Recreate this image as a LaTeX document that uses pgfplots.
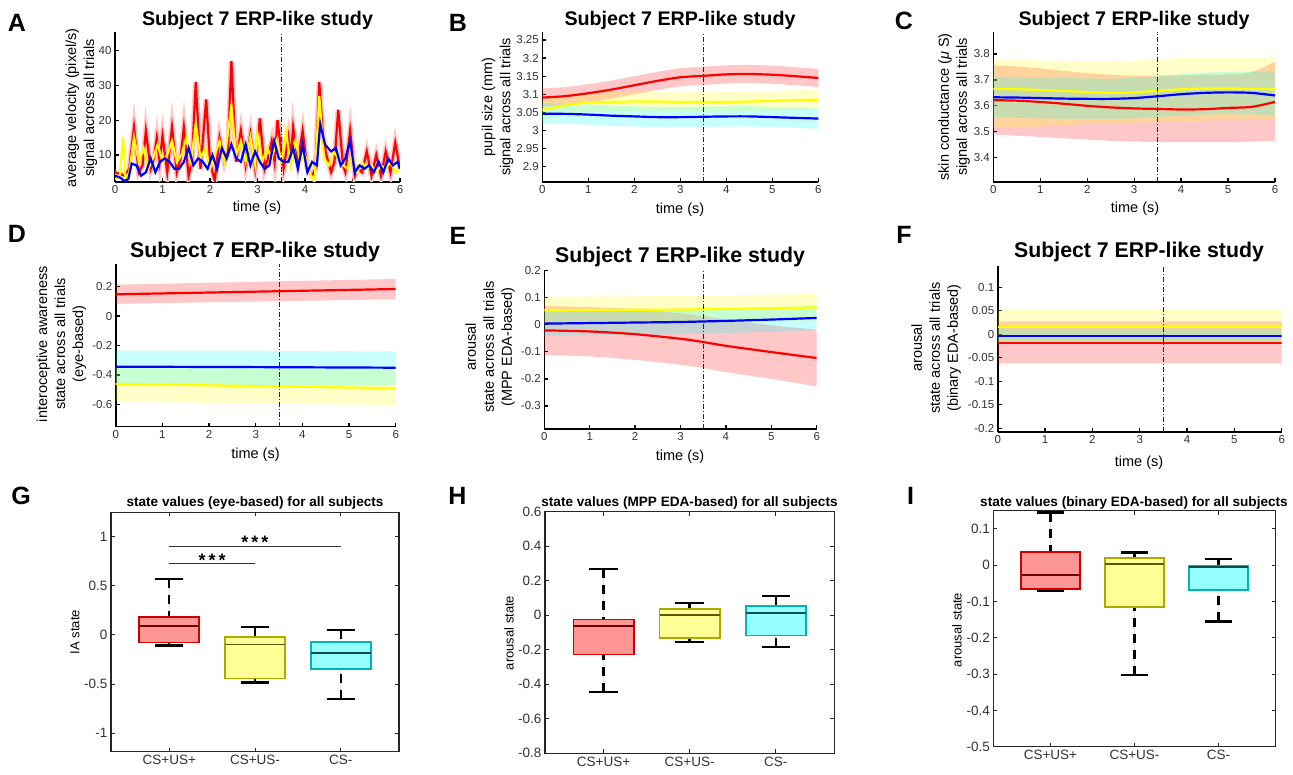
\documentclass[border=0pt]{standalone}
\usepackage{fontspec}
\setmainfont{Liberation Sans}
\usepackage{pgfplots}
\usepackage{pgfplotstable}
\pgfplotsset{compat=1.18}
\usepgfplotslibrary{fillbetween,statistics}

\definecolor{rE}{RGB}{204,0,0}
\definecolor{rF}{RGB}{255,150,150}
\definecolor{rM}{RGB}{110,0,0}
\definecolor{yE}{RGB}{170,170,0}
\definecolor{yF}{RGB}{255,255,150}
\definecolor{yM}{RGB}{90,90,0}
\definecolor{cE}{RGB}{0,180,180}
\definecolor{cF}{RGB}{150,255,255}
\definecolor{cM}{RGB}{0,80,80}
\definecolor{tk}{RGB}{50,50,50}
\definecolor{mred}{RGB}{255,0,0}
\definecolor{myel}{RGB}{255,255,0}
\definecolor{mblu}{RGB}{0,0,255}
\definecolor{mcya}{RGB}{0,255,255}

% panel B: pupil size
\pgfplotstableread{
t   r     rlo   rhi   y     ylo   yhi   b     blo   bhi
0   3.091 3.066 3.116 3.057 3.030 3.084 3.046 3.018 3.074
0.5 3.095 3.070 3.120 3.070 3.043 3.097 3.046 3.018 3.074
1   3.103 3.078 3.128 3.077 3.050 3.104 3.044 3.016 3.072
1.5 3.113 3.088 3.138 3.079 3.052 3.106 3.041 3.013 3.069
2   3.125 3.100 3.150 3.080 3.053 3.107 3.039 3.011 3.067
2.5 3.137 3.112 3.162 3.080 3.053 3.107 3.037 3.009 3.065
3   3.147 3.122 3.172 3.079 3.052 3.106 3.037 3.009 3.065
3.5 3.151 3.126 3.176 3.079 3.052 3.106 3.038 3.010 3.066
4   3.155 3.130 3.180 3.079 3.052 3.106 3.039 3.011 3.067
4.5 3.156 3.131 3.181 3.080 3.053 3.107 3.039 3.011 3.067
5   3.154 3.129 3.179 3.082 3.055 3.109 3.037 3.009 3.065
5.5 3.150 3.125 3.175 3.084 3.057 3.111 3.035 3.007 3.063
6   3.145 3.120 3.170 3.085 3.058 3.112 3.033 3.005 3.061
}\Btab

% panel C: skin conductance
\pgfplotstableread{
t   r     rlo   rhi   y     ylo   yhi   b     blo   bhi
0   3.622 3.490 3.757 3.665 3.515 3.778 3.633 3.555 3.712
0.5 3.620 3.485 3.752 3.664 3.515 3.777 3.632 3.554 3.711
1   3.615 3.480 3.745 3.661 3.520 3.775 3.630 3.552 3.710
1.5 3.608 3.475 3.735 3.657 3.525 3.773 3.628 3.550 3.708
2   3.600 3.470 3.726 3.653 3.530 3.772 3.627 3.549 3.706
2.5 3.594 3.465 3.720 3.650 3.533 3.772 3.627 3.549 3.705
3   3.590 3.462 3.716 3.652 3.535 3.775 3.630 3.552 3.708
3.5 3.588 3.460 3.716 3.658 3.537 3.780 3.637 3.557 3.715
4   3.586 3.460 3.718 3.664 3.540 3.785 3.645 3.562 3.722
4.5 3.587 3.460 3.720 3.667 3.543 3.787 3.650 3.566 3.728
5   3.592 3.460 3.722 3.667 3.545 3.787 3.652 3.567 3.731
5.5 3.596 3.462 3.730 3.666 3.547 3.786 3.650 3.566 3.732
6   3.615 3.465 3.770 3.665 3.548 3.785 3.640 3.563 3.733
}\Ctab

% panel D: interoceptive awareness
\pgfplotstableread{
t r     rlo   rhi   y      ylo    yhi    b      blo    bhi
0 0.148 0.083 0.213 -0.461 -0.582 -0.345 -0.344 -0.465 -0.235
3 0.166 0.099 0.233 -0.476 -0.594 -0.357 -0.347 -0.467 -0.237
6 0.184 0.114 0.252 -0.490 -0.605 -0.370 -0.351 -0.470 -0.240
}\Dtab

% panel E: arousal (MPP EDA)
\pgfplotstableread{
t   r      rlo    rhi    y     ylo   yhi   b     blo    bhi
0   -0.021 -0.113 0.069  0.053 0.003 0.103 0.004 -0.041 0.049
1   -0.025 -0.117 0.065  0.054 0.004 0.104 0.006 -0.039 0.051
2   -0.035 -0.130 0.058  0.055 0.005 0.105 0.008 -0.037 0.053
3   -0.052 -0.148 0.042  0.056 0.006 0.106 0.010 -0.035 0.055
3.5 -0.064 -0.160 0.032  0.057 0.007 0.107 0.012 -0.033 0.057
4   -0.078 -0.175 0.020  0.058 0.008 0.108 0.014 -0.031 0.059
5   -0.101 -0.200 -0.002 0.061 0.011 0.111 0.019 -0.026 0.064
6   -0.123 -0.228 -0.018 0.064 0.014 0.114 0.025 -0.020 0.070
}\Etab

% panel F: arousal (binary EDA)
\pgfplotstableread{
t r      rlo    rhi   y     ylo    yhi   b      blo    bhi
0 -0.018 -0.062 0.027 0.016 -0.020 0.052 -0.003 -0.018 0.012
6 -0.018 -0.062 0.027 0.016 -0.020 0.052 -0.003 -0.018 0.012
}\Ftab

\pgfplotsset{
  tpanel/.style={
    scale only axis,
    axis x line=bottom, axis y line=left,
    axis line style={-, line width=1.6pt, black},
    tick align=inside, major tick length=4pt,
    tick style={line width=1.3pt, black},
    xmin=0, xmax=6, xtick={0,1,2,3,4,5,6},
    ticklabel style={font=\fontsize{11.5}{12}\selectfont, text=tk},
    scaled ticks=false,
    /pgf/number format/.cd, fixed, precision=2, assume math mode=true, /pgfplots/.cd,
  },
  bpanel/.style={
    scale only axis,
    xmin=0.32, xmax=3.68, xtick={1,2,3},
    xticklabels={CS+US+,CS+US-,CS-},
    axis line style={line width=1.1pt, black!85},
    tick align=inside, tick pos=both, major tick length=4pt,
    tick style={line width=0.9pt, black!85},
    ticklabel style={font=\fontsize{13.5}{14}\selectfont, text=tk},
    scaled ticks=false,
    /pgf/number format/.cd, fixed, precision=2, assume math mode=true, /pgfplots/.cd,
    boxplot/draw direction=y,
  },
  boxplot/draw/lower whisker/.code={
    \draw[black, line width=2.4pt, dash pattern=on 9pt off 7pt]
      (boxplot cs:\pgfkeysvalueof{/pgfplots/boxplot/lower whisker})
      -- (boxplot cs:\pgfkeysvalueof{/pgfplots/boxplot/lower quartile});
    \draw[black, line width=2.2pt]
      (boxplot whisker cs:\pgfkeysvalueof{/pgfplots/boxplot/lower whisker},0)
      -- (boxplot whisker cs:\pgfkeysvalueof{/pgfplots/boxplot/lower whisker},1);
  },
  boxplot/draw/upper whisker/.code={
    \draw[black, line width=2.4pt, dash pattern=on 9pt off 7pt]
      (boxplot cs:\pgfkeysvalueof{/pgfplots/boxplot/upper whisker})
      -- (boxplot cs:\pgfkeysvalueof{/pgfplots/boxplot/upper quartile});
    \draw[black, line width=2.2pt]
      (boxplot whisker cs:\pgfkeysvalueof{/pgfplots/boxplot/upper whisker},0)
      -- (boxplot whisker cs:\pgfkeysvalueof{/pgfplots/boxplot/upper whisker},1);
  },
}

% shaded band: table, column prefix, colour
\newcommand\band[3]{%
  \addplot[draw=none, smooth, name path=#2hi] table[x=t, y=#2hi] {#1};
  \addplot[draw=none, smooth, name path=#2lo] table[x=t, y=#2lo] {#1};
  \addplot[fill=#3, fill opacity=0.22, draw=none] fill between[of=#2hi and #2lo];
}
% three bands and three mean lines
\newcommand\erp[1]{%
  \band{#1}{r}{mred}
  \band{#1}{y}{myel}
  \band{#1}{b}{mcya}
  \addplot[mred, line width=2.2pt, smooth] table[x=t, y=r] {#1};
  \addplot[myel, line width=2.2pt, smooth] table[x=t, y=y] {#1};
  \addplot[mblu, line width=2.2pt, smooth] table[x=t, y=b] {#1};
}
\newcommand\onset[2]{%
  \addplot[black!85, line width=0.9pt, dash pattern=on 5pt off 2pt on 1pt off 2pt]
    coordinates {(3.5,#1) (3.5,#2)};
}
% box: pos, lw, lq, med, uq, uw, edge, fill, median colour
\newcommand\bx[9]{%
  \addplot[draw=#7, fill=#8, line width=1.8pt,
    boxplot prepared={draw position=#1, lower whisker=#2, lower quartile=#3,
      median=#4, upper quartile=#5, upper whisker=#6,
      box extend=0.7, whisker extend=0.33,
      every median/.style={draw=#9, line width=1.8pt}}]
    coordinates {};
}

\newcommand\lbl{\bfseries\fontsize{25}{25}\selectfont}
\newcommand\ttlA{\bfseries\fontsize{19.7}{22}\selectfont}
\newcommand\ttlB{\bfseries\fontsize{21.3}{23}\selectfont}
\newcommand\ttlC{\bfseries\fontsize{13.6}{15}\selectfont}
\newcommand\axl{\fontsize{14.5}{18}\selectfont}

\begin{document}
\begin{tikzpicture}[x=1pt, y=1pt]

% A
\begin{axis}[tpanel, at={(115pt,593pt)}, anchor=south west, width=285pt, height=150pt,
  ymin=2.2, ymax=45.4, ytick={10,20,30,40}]
\addplot[mred!22, line width=5.5pt] coordinates {
(0,5)(0.1,4.5)(0.2,4)(0.3,6)(0.4,18)(0.5,5)(0.58,7)(0.65,17)(0.75,6)(0.82,9)
(0.88,15)(0.94,8)(1.0,15.5)(1.1,5)(1.2,18)(1.3,5)(1.38,9)(1.45,18)(1.55,4)(1.62,8)
(1.7,31)(1.8,6)(1.92,26)(2.0,8)(2.1,2.5)(2.2,15)(2.3,8)(2.38,12)(2.45,37)(2.55,8)
(2.65,17)(2.75,7)(2.85,16)(2.95,6)(3.05,20.5)(3.15,6)(3.22,9)(3.3,14)(3.36,8)(3.42,20)
(3.55,6)(3.65,15)(3.7,9)(3.75,18)(3.85,8)(3.95,17)(4.05,6)(4.15,4)(4.22,6)(4.3,31)
(4.38,15)(4.45,10)(4.55,5)(4.62,8)(4.7,23)(4.8,7)(4.85,5)(4.95,17)(5.05,4)(5.12,6)
(5.2,5)(5.3,11)(5.4,4)(5.5,10)(5.6,4)(5.7,11)(5.8,5)(5.9,13.5)(6,6)};
\addplot[mred, line width=2.2pt] coordinates {
(0,5)(0.1,4.5)(0.2,4)(0.3,6)(0.4,18)(0.5,5)(0.58,7)(0.65,17)(0.75,6)(0.82,9)
(0.88,15)(0.94,8)(1.0,15.5)(1.1,5)(1.2,18)(1.3,5)(1.38,9)(1.45,18)(1.55,4)(1.62,8)
(1.7,31)(1.8,6)(1.92,26)(2.0,8)(2.1,2.5)(2.2,15)(2.3,8)(2.38,12)(2.45,37)(2.55,8)
(2.65,17)(2.75,7)(2.85,16)(2.95,6)(3.05,20.5)(3.15,6)(3.22,9)(3.3,14)(3.36,8)(3.42,20)
(3.55,6)(3.65,15)(3.7,9)(3.75,18)(3.85,8)(3.95,17)(4.05,6)(4.15,4)(4.22,6)(4.3,31)
(4.38,15)(4.45,10)(4.55,5)(4.62,8)(4.7,23)(4.8,7)(4.85,5)(4.95,17)(5.05,4)(5.12,6)
(5.2,5)(5.3,11)(5.4,4)(5.5,10)(5.6,4)(5.7,11)(5.8,5)(5.9,13.5)(6,6)};
\addplot[myel, line width=2.2pt] coordinates {
(0,3)(0.1,4)(0.17,15)(0.22,3)(0.3,5)(0.4,15)(0.5,8)(0.6,12)(0.7,6)(0.8,9)
(0.9,13)(1.0,8)(1.1,10)(1.2,14)(1.3,8)(1.4,10)(1.5,15)(1.6,8)(1.7,19)(1.8,9)
(1.9,12)(2.0,6)(2.1,10)(2.2,14)(2.3,8)(2.45,24)(2.55,10)(2.65,14)(2.75,8)(2.85,15)
(2.95,7)(3.0,16)(3.1,8)(3.2,12)(3.3,9)(3.4,14)(3.5,8)(3.6,17)(3.7,7)(3.8,14)
(3.9,8)(4.0,10)(4.1,5)(4.2,2)(4.3,27)(4.4,9)(4.5,7)(4.6,11)(4.7,9)(4.8,7)
(4.9,6)(5.0,10)(5.1,5)(5.2,8)(5.3,6)(5.4,7)(5.5,5)(5.6,7)(5.7,6)(5.8,8)(5.9,5)(6,6)};
\addplot[mblu, line width=2.2pt] coordinates {
(0,4)(0.1,3.5)(0.2,2.5)(0.28,3)(0.35,7.5)(0.45,7)(0.55,4)(0.65,5)(0.75,9)(0.85,5)
(0.95,8)(1.05,9)(1.15,8)(1.25,6)(1.35,6)(1.45,8)(1.55,12)(1.65,7)(1.75,9)(1.85,8)
(1.95,6)(2.05,10)(2.15,6)(2.25,12)(2.35,9)(2.45,13)(2.55,9)(2.65,8)(2.75,13)(2.85,7)
(2.95,11)(3.05,8)(3.15,6)(3.25,7)(3.35,14)(3.45,9)(3.55,8)(3.65,8)(3.75,12)(3.85,6)
(3.95,13)(4.05,5)(4.15,8)(4.25,7)(4.32,19)(4.42,13)(4.55,11)(4.65,12)(4.75,7)(4.85,9)
(4.95,14)(5.05,5)(5.15,7)(5.25,6)(5.35,7)(5.45,5)(5.55,8)(5.65,5)(5.75,9)(5.85,7)
(5.95,8)(6,6)};
\onset{2.2}{45.4}
\end{axis}

% B
\begin{axis}[tpanel, at={(542.3pt,593pt)}, anchor=south west, width=276pt, height=150pt,
  ymin=2.858, ymax=3.272, ytick={2.9,2.95,3,3.05,3.1,3.15,3.2,3.25}]
\erp{\Btab}
\onset{2.858}{3.272}
\end{axis}

% C
\begin{axis}[tpanel, at={(993.3pt,592.7pt)}, anchor=south west, width=281.7pt, height=150.3pt,
  ymin=3.305, ymax=3.885, ytick={3.4,3.5,3.6,3.7,3.8}]
\erp{\Ctab}
\onset{3.305}{3.885}
\end{axis}

% D
\begin{axis}[tpanel, at={(115.7pt,348.3pt)}, anchor=south west, width=280pt, height=162.4pt,
  ymin=-0.752, ymax=0.352, ytick={-0.6,-0.4,-0.2,0,0.2}]
\erp{\Dtab}
\onset{-0.752}{0.352}
\end{axis}

% E
\begin{axis}[tpanel, at={(544.3pt,346pt)}, anchor=south west, width=272.4pt, height=159pt,
  ymin=-0.385, ymax=0.202, ytick={-0.3,-0.2,-0.1,0,0.1,0.2}]
\erp{\Etab}
\onset{-0.385}{0.202}
\end{axis}

% F
\begin{axis}[tpanel, at={(997.7pt,342.7pt)}, anchor=south west, width=284pt, height=166.3pt,
  ymin=-0.2085, ymax=0.145, ytick={-0.2,-0.15,-0.1,-0.05,0,0.05,0.1}]
\erp{\Ftab}
\onset{-0.2085}{0.145}
\end{axis}

% G
\begin{axis}[bpanel, at={(111pt,23.3pt)}, anchor=south west, width=288pt, height=239.4pt,
  ymin=-1.19, ymax=1.25, ytick={-1,-0.5,0,0.5,1}]
\bx{1}{-0.108}{-0.078}{0.095}{0.186}{0.57}{rE}{rF}{rM}
\bx{2}{-0.485}{-0.444}{-0.098}{-0.024}{0.081}{yE}{yF}{yM}
\bx{3}{-0.654}{-0.346}{-0.186}{-0.071}{0.054}{cE}{cF}{cM}
\addplot[black!80, line width=0.9pt] coordinates {(1,0.725) (2,0.725)};
\addplot[black!80, line width=0.9pt] coordinates {(1,0.902) (3,0.902)};
\node[font=\bfseries\fontsize{18}{18}\selectfont] at (axis cs:1.5,0.765) {*\,*\,*};
\node[font=\bfseries\fontsize{18}{18}\selectfont] at (axis cs:2,0.945) {*\,*\,*};
\end{axis}

% H
\begin{axis}[bpanel, at={(545pt,21.7pt)}, anchor=south west, width=289.3pt, height=241.6pt,
  ymin=-0.8, ymax=0.6, ytick={-0.8,-0.6,-0.4,-0.2,0,0.2,0.4,0.6}]
\bx{1}{-0.443}{-0.227}{-0.064}{-0.025}{0.269}{rE}{rF}{rM}
\bx{2}{-0.157}{-0.132}{0.002}{0.035}{0.072}{yE}{yF}{yM}
\bx{3}{-0.186}{-0.118}{0.014}{0.052}{0.110}{cE}{cF}{cM}
\end{axis}

% I
\begin{axis}[bpanel, at={(993.3pt,28.3pt)}, anchor=south west, width=282.4pt, height=236pt,
  ymin=-0.5, ymax=0.15, ytick={-0.5,-0.4,-0.3,-0.2,-0.1,0,0.1}]
\bx{1}{-0.072}{-0.065}{-0.027}{0.036}{0.145}{rE}{rF}{rM}
\bx{2}{-0.303}{-0.115}{0.0035}{0.020}{0.035}{yE}{yF}{yM}
\bx{3}{-0.155}{-0.069}{-0.005}{-0.003}{0.018}{cE}{cF}{cM}
\end{axis}

% panel letters
\node[font=\lbl] at (17,752.5) {A};
\node[font=\lbl] at (458,752.5) {B};
\node[font=\lbl] at (904,754) {C};
\node[font=\lbl] at (17,541) {D};
\node[font=\lbl] at (458,539) {E};
\node[font=\lbl] at (904,540) {F};
\node[font=\lbl] at (21,279) {G};
\node[font=\lbl] at (457.5,279) {H};
\node[font=\lbl] at (910.5,279.5) {I};

% titles
\node[font=\ttlA] at (257.5,755) {Subject 7 ERP-like study};
\node[font=\ttlA] at (680,755) {Subject 7 ERP-like study};
\node[font=\ttlA] at (1134,755) {Subject 7 ERP-like study};
\node[font=\ttlB] at (255,523.3) {Subject 7 ERP-like study};
\node[font=\ttlB] at (680,518.3) {Subject 7 ERP-like study};
\node[font=\ttlB] at (1139,523.3) {Subject 7 ERP-like study};
\node[font=\ttlC] at (255,272.3) {state values (eye-based) for all subjects};
\node[font=\ttlC] at (689.5,272.3) {state values (MPP EDA-based) for all subjects};
\node[font=\ttlC] at (1134,272.3) {state values (binary EDA-based) for all subjects};

% axis labels
\node[font=\axl] at (257,567) {time (s)};
\node[font=\axl] at (680,565.7) {time (s)};
\node[font=\axl] at (1135,566) {time (s)};
\node[font=\axl] at (255.5,320) {time (s)};
\node[font=\axl] at (680,318.3) {time (s)};
\node[font=\axl] at (1139,312) {time (s)};

\node[font=\axl, rotate=90, align=center] at (81.3,667) {average velocity (pixel/s)\\signal across all trials};
\node[font=\axl, rotate=90, align=center] at (497.5,668) {pupil size (mm)\\signal across all trials};
\node[font=\axl, rotate=90, align=center] at (954,668) {skin conductance (\textit{μ} S)\\signal across all trials};
\node[font=\axl, rotate=90, align=center] at (61.5,431) {interoceptive awareness\\state across all trials\\(eye-based)};
\node[font=\axl, rotate=90, align=center] at (490,428) {arousal\\state across all trials\\(MPP EDA-based)};
\node[font=\axl, rotate=90, align=center] at (936,427) {arousal\\state across all trials\\(binary EDA-based)};

\node[font=\fontsize{13}{15}\selectfont, rotate=90] at (75,143) {IA state};
\node[font=\fontsize{13}{15}\selectfont, rotate=90] at (509,142) {arousal state};
\node[font=\fontsize{13}{15}\selectfont, rotate=90] at (957,145) {arousal state};

\useasboundingbox (0,0) rectangle (1293,775);
\end{tikzpicture}
\end{document}
